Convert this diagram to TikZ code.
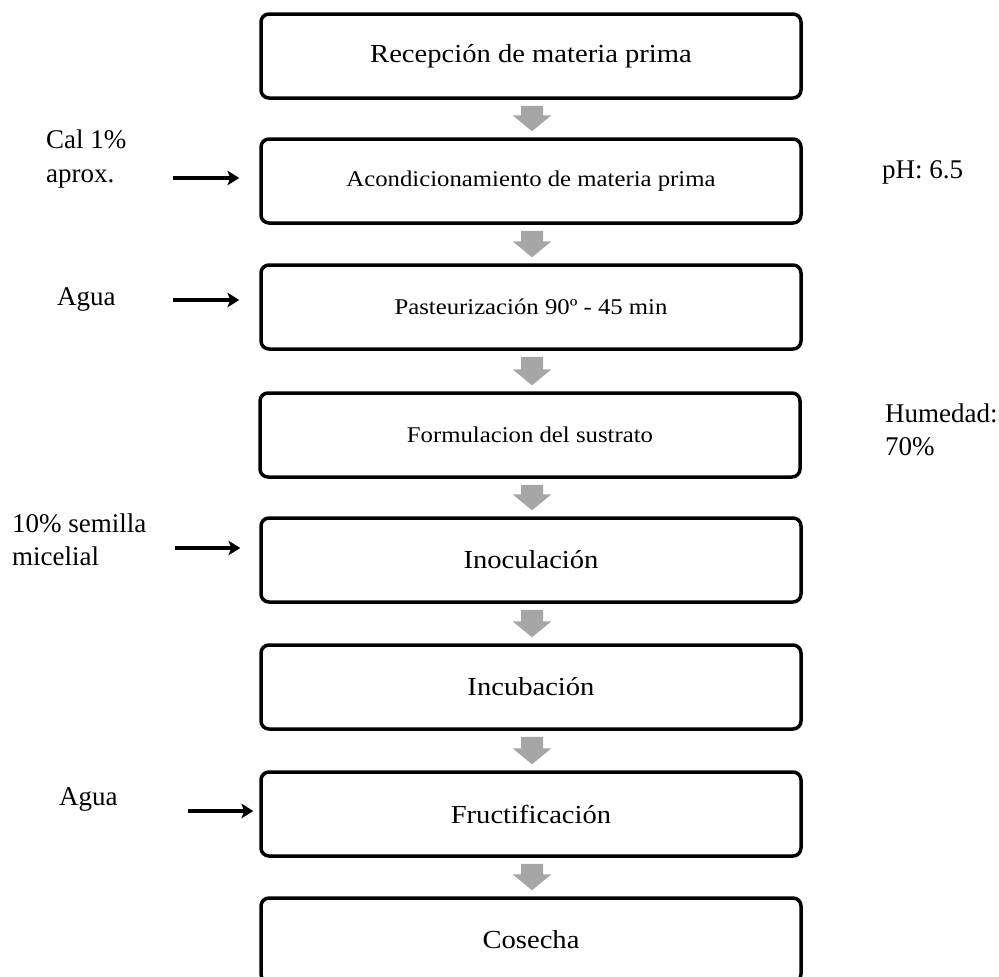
\documentclass[tikz,border=0pt]{standalone}
\usepackage{fontspec}
\setmainfont{Liberation Serif}
\newfontfamily\boxfont[FakeStretch=1.1]{Liberation Serif}
\usetikzlibrary{arrows.meta,calc}
\tikzset{
  stepbox/.style={draw=black, line width=3.5pt, rounded corners=8pt, fill=white,
    minimum width=540pt, minimum height=84pt, inner sep=0pt},
  bigtxt/.style={font=\boxfont\fontsize{26}{30}\selectfont},
  smalltxt/.style={font=\boxfont\fontsize{22.5}{27}\selectfont},
  sidetxt/.style={anchor=base west, inner sep=0pt, font=\fontsize{27}{33}\selectfont},
  grayflow/.style={fill=flowgray, draw=none},
  inarrow/.style={draw=black, line width=4pt,
    -{Stealth[width=15pt,length=12pt,inset=3pt,line width=0pt]}}
}
\definecolor{flowgray}{HTML}{A6A6A6}
% block arrow from the bottom of box #1 to the top of box #2
\newcommand{\flowarrow}[2]{%
  \fill[grayflow]
    ($(#1.south -| 532,0)+(-11,6)$) -- ($(#1.south -| 532,0)+(11,6)$)
    -- ($(#2.north -| 532,0)+(11,-22)$) -- ($(#2.north -| 532,0)+(19.5,-22)$)
    -- ($(#2.north -| 532,0)+(0,-6)$)
    -- ($(#2.north -| 532,0)+(-19.5,-22)$) -- ($(#2.north -| 532,0)+(-11,-22)$)
    -- cycle;}
\begin{document}
\begin{tikzpicture}[x=1pt,y=-1pt]
\useasboundingbox (0,0) rectangle (999,977);
\clip (0,0) rectangle (999,977);
% process boxes
\node[stepbox,bigtxt]   (b1) at (531,56)  {Recepción de materia prima};
\node[stepbox,smalltxt] (b2) at (531,181) {Acondicionamiento de materia prima};
\node[stepbox,smalltxt] (b3) at (531,307) {Pasteurización 90º - 45 min};
\node[stepbox,smalltxt] (b4) at (530,435) {Formulacion del sustrato};
\node[stepbox,bigtxt]   (b5) at (531,560) {Inoculación};
\node[stepbox,bigtxt]   (b6) at (531,687) {Incubación};
\node[stepbox,bigtxt]   (b7) at (531,814) {Fructificación};
\node[stepbox,bigtxt]   (b8) at (531,940) {Cosecha};
% gray flow arrows
\flowarrow{b1}{b2}
\flowarrow{b2}{b3}
\flowarrow{b3}{b4}
\flowarrow{b4}{b5}
\flowarrow{b5}{b6}
\flowarrow{b6}{b7}
\flowarrow{b7}{b8}
% side inputs
\node[sidetxt] (t1a) at (46,148) {Cal 1\%};
\node[sidetxt] (t1b) at (46,182) {aprox.};
\coordinate (s2) at (173,178);
\draw[inarrow, shorten >=20pt] (s2) -- (b2.west |- s2);

\node[sidetxt] (t2) at (57,305) {Agua};
\coordinate (s3) at (173,300);
\draw[inarrow, shorten >=20pt] (s3) -- (b3.west |- s3);

\node[sidetxt] (t3a) at (12,532) {10\% semilla};
\node[sidetxt] (t3b) at (12,565) {micelial};
\coordinate (s5) at (175,548);
\draw[inarrow, shorten >=19pt] (s5) -- (b5.west |- s5);

\node[sidetxt] (t4) at (59,805) {Agua};
\coordinate (s7) at (188,811);
\draw[inarrow, shorten >=6pt] (s7) -- (b7.west |- s7);

% right-side notes
\node[sidetxt] (r1) at (882,178) {pH: 6.5};
\node[sidetxt] (r2a) at (885,422) {Humedad:};
\node[sidetxt] (r2b) at (885,455) {70\%};
\end{tikzpicture}
\end{document}
